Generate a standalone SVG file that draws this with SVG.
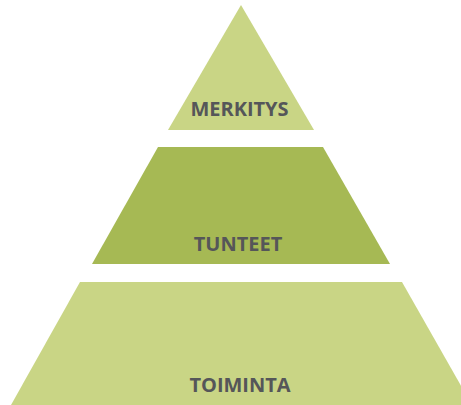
<svg xmlns="http://www.w3.org/2000/svg" width="461" height="405" viewBox="0 0 461 405">
<style>
.lbl{font-family:"Open Sans","Liberation Sans",sans-serif;font-weight:bold;font-size:20px;fill:#555659;text-anchor:middle}
.light{fill:#c9d585}
.dark{fill:#a6b954}
</style>
<rect width="461" height="405" fill="#ffffff"/>
<g id="merkitys">
<polygon class="light" points="241,5 168,130 314,130"/>
<text class="lbl" x="239.5" y="116">MERKITYS</text>
</g>
<g id="tunteet">
<polygon class="dark" points="158,147 323,147 390,264 92,264"/>
<text class="lbl" x="238" y="251">TUNTEET</text>
</g>
<g id="toiminta">
<polygon class="light" points="80,282 402,282 472,405 11,405"/>
<text class="lbl" x="240" y="392">TOIMINTA</text>
</g>
<g id="connectors"/>
</svg>
